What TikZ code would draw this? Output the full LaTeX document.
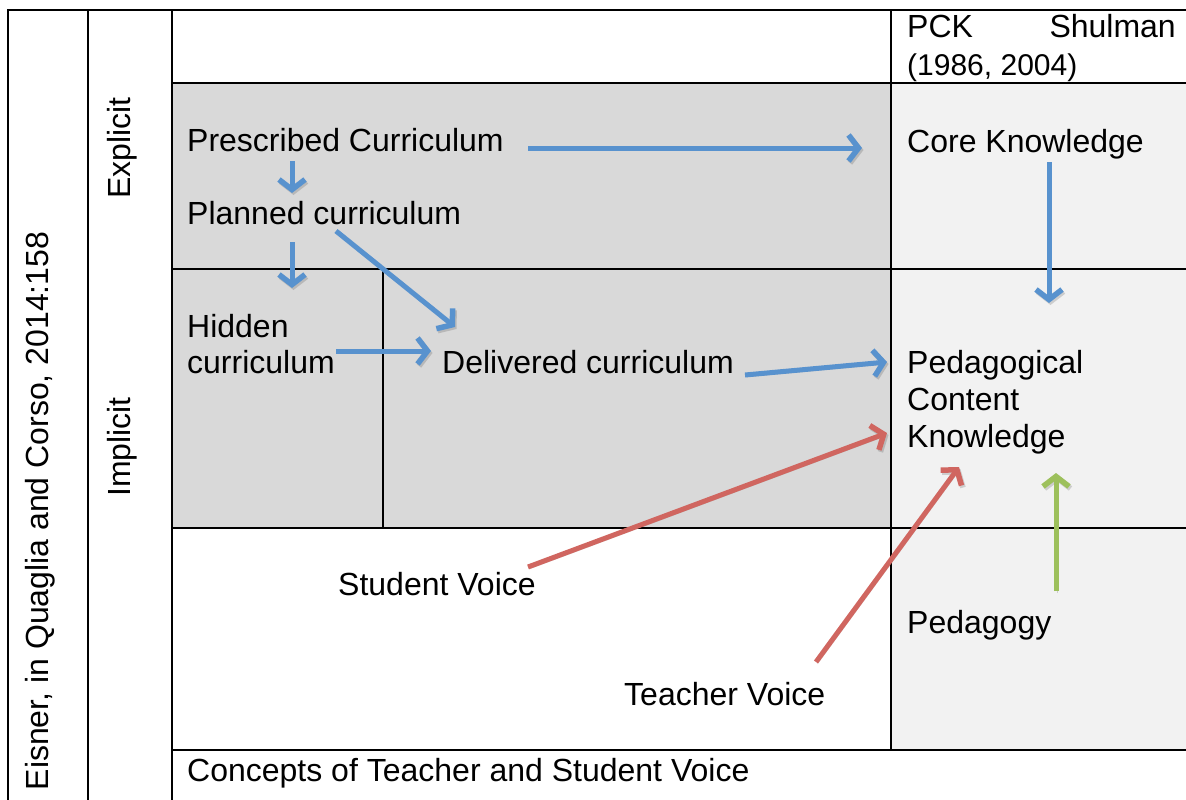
\documentclass[tikz,border=0pt]{standalone}
\usepackage{fontspec}
\setmainfont{Liberation Sans}
\usetikzlibrary{arrows.meta}
\definecolor{arrblue}{RGB}{88,146,206}
\definecolor{arrred}{RGB}{208,102,96}
\definecolor{arrgreen}{RGB}{157,192,92}
\definecolor{darkfill}{RGB}{217,217,217}
\definecolor{lightfill}{RGB}{242,242,242}
\begin{document}
\begin{tikzpicture}[x=1pt,y=-1pt,
  lbl/.style={anchor=base west, inner sep=0pt, font=\fontsize{32}{37}\selectfont},
  rlbl/.style={rotate=90, inner sep=0pt, font=\fontsize{32}{37}\selectfont},
  gridline/.style={line width=2.4pt, black},
  thinline/.style={line width=1.6pt, black},
  conn/.style={line width=5pt, -{Straight Barb[length=10pt,width=26pt,line width=5.5pt]},
    preaction={draw=black, opacity=0.15, transform canvas={shift={(1.5pt,-2pt)}}}},
  blueconn/.style={conn, draw=arrblue},
  redconn/.style={conn, draw=arrred},
  greenconn/.style={conn, draw=arrgreen}]
\useasboundingbox (0,0) rectangle (1186,800);
\fill[white] (0,0) rectangle (1186,800);
% fills
\fill[darkfill] (172,83) rectangle (891,528);
\fill[lightfill] (891,83) rectangle (1186,750);
% grid
\draw[gridline] (8,801) -- (8,10) -- (1187,10);
\draw[gridline] (88,10) -- (88,801);
\draw[gridline] (172,10) -- (172,801);
\draw[gridline] (891,10) -- (891,750);
\draw[gridline] (172,83) -- (1187,83);
\draw[gridline] (172,269) -- (1187,269);
\draw[gridline] (172,528) -- (1187,528);
\draw[gridline] (172,750) -- (1187,750);
\draw[thinline] (383,269) -- (383,528);
% texts
\node[rlbl] (eisner) at (40,511) {Eisner, in Quaglia and Corso, 2014:158};
\node[rlbl] (explicit) at (122,148) {Explicit};
\node[rlbl] (implicit) at (122,447) {Implicit};
\node[lbl] (pck) at (907,38) {PCK};
\node[lbl, anchor=base east] (shulman) at (1176,38) {Shulman};
\node[lbl, font=\fontsize{30}{37}\selectfont] (years) at (907,75) {(1986, 2004)};
\node[lbl] (presc) at (187,151) {Prescribed Curriculum};
\node[lbl] (core) at (907,152) {Core Knowledge};
\node[lbl] (planned) at (187,224) {Planned curriculum};
\node[lbl] (hidden1) at (187,337) {Hidden};
\node[lbl] (hidden2) at (187,373) {curriculum};
\node[lbl] (delivered) at (442,373) {Delivered curriculum};
\node[lbl] (pck1) at (907,373) {Pedagogical};
\node[lbl] (pck2) at (907,410) {Content};
\node[lbl] (pck3) at (907,447) {Knowledge};
\node[lbl] (student) at (338,595) {Student Voice};
\node[lbl] (pedagogy) at (907,633) {Pedagogy};
\node[lbl] (teacher) at (624,705) {Teacher Voice};
\node[lbl] (concepts) at (187,781) {Concepts of Teacher and Student Voice};
% connector end points
\coordinate (a1s) at (528,148);  \coordinate (a1e) at (862,148);
\coordinate (a2s) at (292,161);  \coordinate (a2e) at (292,193);
\coordinate (a3s) at (292,242);  \coordinate (a3e) at (292,288);
\coordinate (a4s) at (336,231);  \coordinate (a4e) at (455,327);
\coordinate (a5s) at (336,351);  \coordinate (a5e) at (431,351);
\coordinate (a6s) at (745,375);  \coordinate (a6e) at (887,362);
\coordinate (a7s) at (1049,162); \coordinate (a7e) at (1049,303);
\coordinate (a8s) at (528,567);  \coordinate (a8e) at (887,433);
\coordinate (a9s) at (816,662);  \coordinate (a9e) at (959,467);
\coordinate (a10s) at (1056,591); \coordinate (a10e) at (1056,473);
% connectors
\draw[blueconn] (a1s) -- (a1e);
\draw[blueconn] (a2s) -- (a2e);
\draw[blueconn] (a3s) -- (a3e);
\draw[blueconn] (a4s) -- (a4e);
\draw[blueconn] (a5s) -- (a5e);
\draw[blueconn] (a6s) -- (a6e);
\draw[blueconn] (a7s) -- (a7e);
\draw[redconn] (a8s) -- (a8e);
\draw[redconn] (a9s) -- (a9e);
\draw[greenconn] (a10s) -- (a10e);
\end{tikzpicture}
\end{document}
